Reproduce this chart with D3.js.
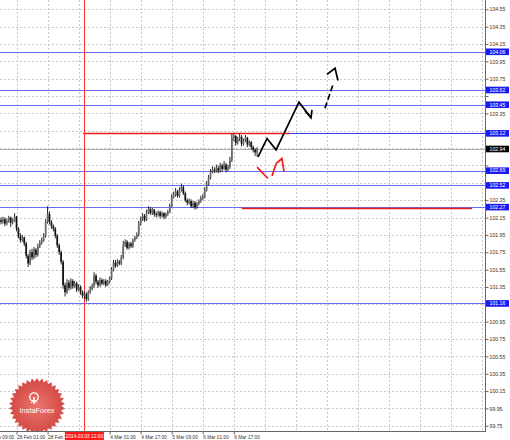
<!DOCTYPE html>
<html>
<head>
<meta charset="utf-8">
<script src="https://cdn.jsdelivr.net/npm/d3@7"></script>
<style>
  body { margin: 0; background: #fff; }
  svg { display: block; font-family: "Liberation Sans", Arial, sans-serif; }
</style>
</head>
<body>
<div id="chart"></div>
<script>
'use strict'

// H1 bars, bar 0 = 27 Feb 17:00 (weekend skipped)
var firstOpen = 102.12;
var closes = [
  102.10, 102.13, 102.08, 102.11, 102.15, 102.09, 102.12, 102.16, 102.02, 101.94,
  101.89, 101.92, 101.85, 101.71, 101.62, 101.75, 101.69, 101.78, 101.72, 101.82,
  101.86, 101.89, 101.94, 102.10, 102.19, 102.10, 102.05, 102.02, 101.94, 101.83,
  101.75, 101.64, 101.37, 101.29, 101.40, 101.34, 101.42, 101.36, 101.39, 101.32,
  101.35, 101.29, 101.25, 101.27, 101.21, 101.29, 101.33, 101.36, 101.48, 101.41,
  101.37, 101.43, 101.39, 101.42, 101.37, 101.41, 101.45, 101.55, 101.63, 101.59,
  101.64, 101.62, 101.69, 101.83, 101.87, 101.80, 101.85, 101.82, 101.89, 101.92,
  101.95, 102.08, 102.13, 102.17, 102.12, 102.21, 102.25, 102.20, 102.24, 102.19,
  102.18, 102.21, 102.17, 102.20, 102.16, 102.19, 102.21, 102.28, 102.39, 102.41,
  102.45, 102.40, 102.47, 102.50, 102.43, 102.35, 102.32, 102.34, 102.28, 102.32,
  102.27, 102.31, 102.34, 102.37, 102.39, 102.47, 102.54, 102.61, 102.68, 102.70,
  102.69, 102.72, 102.69, 102.75, 102.71, 102.76, 102.70, 102.73, 102.81, 103.07,
  103.09, 103.01, 103.06, 103.08, 103.00, 103.04, 103.07, 102.99, 103.02, 102.96,
  102.93, 102.90, 102.94
];
var highs = [
  102.15, 102.16, 102.15, 102.14, 102.17, 102.16, 102.14, 102.20, 102.17, 102.04,
  101.97, 101.95, 101.93, 101.87, 101.73, 101.78, 101.79, 101.81, 101.80, 101.85,
  101.89, 101.92, 101.97, 102.13, 102.28, 102.22, 102.12, 102.07, 102.04, 101.96,
  101.85, 101.77, 101.66, 101.40, 101.44, 101.43, 101.45, 101.44, 101.42, 101.41,
  101.38, 101.37, 101.31, 101.30, 101.29, 101.31, 101.36, 101.39, 101.52, 101.50,
  101.43, 101.46, 101.45, 101.44, 101.44, 101.43, 101.47, 101.58, 101.66, 101.66,
  101.67, 101.66, 101.72, 101.88, 101.90, 101.89, 101.87, 101.87, 101.91, 101.94,
  101.98, 102.11, 102.16, 102.20, 102.19, 102.24, 102.28, 102.27, 102.26, 102.25,
  102.22, 102.23, 102.23, 102.22, 102.21, 102.21, 102.24, 102.31, 102.42, 102.45,
  102.49, 102.47, 102.50, 102.54, 102.52, 102.45, 102.37, 102.37, 102.36, 102.34,
  102.34, 102.33, 102.36, 102.40, 102.42, 102.50, 102.57, 102.64, 102.71, 102.74,
  102.73, 102.76, 102.75, 102.78, 102.77, 102.80, 102.78, 102.76, 102.85, 103.12,
  103.12, 103.10, 103.08, 103.12, 103.10, 103.06, 103.10, 103.08, 103.04, 103.03,
  102.98, 102.95, 102.96
];
var lows = [
  102.07, 102.08, 102.05, 102.06, 102.09, 102.04, 102.07, 102.10, 101.99, 101.91,
  101.86, 101.87, 101.82, 101.68, 101.58, 101.60, 101.66, 101.67, 101.69, 101.70,
  101.80, 101.84, 101.87, 101.92, 102.08, 102.07, 102.02, 101.99, 101.91, 101.80,
  101.72, 101.61, 101.33, 101.24, 101.27, 101.31, 101.32, 101.33, 101.34, 101.29,
  101.30, 101.26, 101.22, 101.21, 101.18, 101.19, 101.27, 101.31, 101.34, 101.38,
  101.34, 101.35, 101.37, 101.37, 101.35, 101.36, 101.39, 101.43, 101.53, 101.57,
  101.58, 101.60, 101.60, 101.67, 101.81, 101.78, 101.78, 101.80, 101.80, 101.87,
  101.90, 101.93, 102.06, 102.11, 102.10, 102.11, 102.19, 102.18, 102.18, 102.16,
  102.15, 102.16, 102.14, 102.15, 102.13, 102.14, 102.17, 102.20, 102.27, 102.37,
  102.39, 102.38, 102.38, 102.45, 102.41, 102.33, 102.29, 102.30, 102.26, 102.26,
  102.24, 102.25, 102.29, 102.32, 102.35, 102.37, 102.45, 102.52, 102.59, 102.66,
  102.66, 102.67, 102.66, 102.67, 102.68, 102.70, 102.67, 102.68, 102.71, 102.79,
  103.03, 102.98, 102.99, 103.03, 102.97, 102.98, 103.02, 102.96, 102.97, 102.93,
  102.90, 102.86, 102.85
];

// time axis
var timeTickBars = [-8, 8, 24, 40, 56, 72, 88, 104, 120];
var timeLabels = ['27 Feb 09:00', '28 Feb 01:00', '28 Feb 17:00', '3 Mar 09:00', '4 Mar 01:00',
  '4 Mar 17:00', '5 Mar 09:00', '6 Mar 01:00', '6 Mar 17:00'];
var cursorBar = 43;
var cursorLabel = '2014.03.03 12:00';

// price axis
var priceTicks = [99.75, 99.95, 100.15, 100.35, 100.55, 100.75, 100.95, 101.15, 101.35, 101.55,
  101.75, 101.95, 102.15, 102.35, 102.55, 102.75, 102.95, 103.15, 103.35, 103.55,
  103.75, 103.95, 104.15, 104.35, 104.55];

// horizontal levels (blue) and where they start (bar index)
var levelPrices = [104.06, 103.62, 103.45, 103.12, 102.69, 102.52, 102.27, 101.16];
var levelStart = [-10, -10, -10, 147, -10, -10, -10, -10];
var bidPrice = 102.94;

// red support / resistance segments
var redPrices = [103.12, 102.26];
var redFrom = [42.3, 124.2];
var redTo = [149, 242.8];

// forecast arrows [bar, price]
var blackPath = [[132.5, 102.85], [137.1, 103.06], [141.8, 102.93], [153.6, 103.48], [159.8, 103.30]];
var blackHead = [[156.7, 103.38], [159.8, 103.30], [160.3, 103.39]];
var dashPath = [[167.0, 103.41], [171.1, 103.68]];
var dashHead = [[168.0, 103.80], [172.2, 103.87], [173.7, 103.73]];
var redPath1 = [[132.0, 102.73], [137.6, 102.60]];
var redPath2 = [[139.7, 102.63], [141.8, 102.77]];
var redHead = [[141.8, 102.77], [144.8, 102.83], [145.9, 102.68]];

// DISPLAY SETTINGS
var WIDTH = 510, HEIGHT = 440;
var PLOT_W = 485, PLOT_H = 431;
var BAR_STEP = 1.94;
var BLUE = '#6a6af2';
var TAG_H = 6.6;

var x = d3.scaleLinear().domain([0, 250]).range([1, 1 + BAR_STEP * 250]);
var y = d3.scaleLinear().domain([99.69, 104.657]).range([PLOT_H, 0]);

var svg = d3.select('#chart').append('svg').attr('width', WIDTH).attr('height', HEIGHT);

var defs = svg.append('defs');
defs.append('clipPath').attr('id', 'plot')
  .append('rect').attr('x', 0).attr('y', 0).attr('width', PLOT_W).attr('height', PLOT_H);

var radial = defs.append('radialGradient').attr('id', 'logoGrad');
radial.append('stop').attr('offset', '0%').attr('stop-color', '#ea6a62');
radial.append('stop').attr('offset', '100%').attr('stop-color', '#d03a36');

var plot = svg.append('g').attr('clip-path', 'url(#plot)');

// GRID
var gridBars = d3.range(-8, 250, 16);
plot.selectAll('line.vgrid').data(gridBars).enter().append('line')
  .attr('class', 'vgrid')
  .attr('x1', function (d) { return Math.round(x(d)) + 0.5 })
  .attr('x2', function (d) { return Math.round(x(d)) + 0.5 })
  .attr('y1', 0).attr('y2', PLOT_H)
  .attr('stroke', '#c8c8c8').attr('stroke-dasharray', '2,2');

plot.selectAll('line.hgrid').data(priceTicks).enter().append('line')
  .attr('class', 'hgrid')
  .attr('x1', 0).attr('x2', PLOT_W)
  .attr('y1', function (d) { return Math.round(y(d)) + 0.5 })
  .attr('y2', function (d) { return Math.round(y(d)) + 0.5 })
  .attr('stroke', '#c8c8c8').attr('stroke-dasharray', '2,2');

// LOGO
var logo = plot.append('g').attr('transform', 'translate(37,406)').attr('opacity', 0.92);
var teeth = 34;
var starPts = d3.range(teeth * 2).map(function (k) {
  var r = k % 2 ? 24.5 : 28;
  var a = k * Math.PI / teeth;
  return [Math.sin(a) * r, -Math.cos(a) * r];
});
logo.append('path').attr('d', 'M' + starPts.join('L') + 'Z').attr('fill', 'url(#logoGrad)');
logo.append('circle').attr('cx', -3).attr('cy', -9).attr('r', 4.2)
  .attr('fill', 'none').attr('stroke', '#fff').attr('stroke-width', 1.3);
logo.append('line').attr('x1', -3).attr('x2', -3).attr('y1', -9).attr('y2', -2)
  .attr('stroke', '#fff').attr('stroke-width', 1.6);
logo.append('path').attr('d', 'M-6,-3 L-3,-6 L0,-3').attr('fill', 'none')
  .attr('stroke', '#fff').attr('stroke-width', 1);
logo.append('text').text('InstaForex').attr('x', 0).attr('y', 6.5)
  .attr('text-anchor', 'middle').attr('font-size', '7.4px').attr('fill', '#fff');

// LEVELS
plot.append('line')
  .attr('x1', 0).attr('x2', PLOT_W)
  .attr('y1', Math.round(y(bidPrice)) + 0.5).attr('y2', Math.round(y(bidPrice)) + 0.5)
  .attr('stroke', '#b0b0b0');

plot.selectAll('line.level').data(levelPrices).enter().append('line')
  .attr('class', 'level')
  .attr('x1', function (d, i) { return Math.max(0, x(levelStart[i])) })
  .attr('x2', PLOT_W)
  .attr('y1', function (d) { return Math.round(y(d)) + 0.5 })
  .attr('y2', function (d) { return Math.round(y(d)) + 0.5 })
  .attr('stroke', function (d) { return d === 103.12 ? '#3a3af5' : BLUE })
  .attr('stroke-width', function (d) { return d === 104.06 ? 1 : 1.2 });

plot.selectAll('line.red').data(redPrices).enter().append('line')
  .attr('class', 'red')
  .attr('x1', function (d, i) { return x(redFrom[i]) })
  .attr('x2', function (d, i) { return x(redTo[i]) })
  .attr('y1', function (d) { return Math.round(y(d)) + 0.5 })
  .attr('y2', function (d) { return Math.round(y(d)) + 0.5 })
  .attr('stroke', '#ee1c1c').attr('stroke-width', 1.6);

// cursor line
plot.append('line')
  .attr('x1', Math.round(x(cursorBar)) + 0.5).attr('x2', Math.round(x(cursorBar)) + 0.5)
  .attr('y1', 0).attr('y2', PLOT_H)
  .attr('stroke', '#ff3030').attr('stroke-width', 1);

// CANDLES
var bars = closes.map(function (c, i) {
  return { i: i, o: i ? closes[i - 1] : firstOpen, c: c, h: highs[i], l: lows[i] };
});

plot.selectAll('line.wick').data(bars).enter().append('line')
  .attr('class', 'wick')
  .attr('x1', function (d) { return x(d.i) }).attr('x2', function (d) { return x(d.i) })
  .attr('y1', function (d) { return y(d.h) }).attr('y2', function (d) { return y(d.l) })
  .attr('stroke', '#111').attr('stroke-width', 0.9);

plot.selectAll('rect.body').data(bars).enter().append('rect')
  .attr('class', 'body')
  .attr('x', function (d) { return x(d.i) - 0.85 })
  .attr('width', 1.7)
  .attr('y', function (d) { return y(Math.max(d.o, d.c)) })
  .attr('height', function (d) { return Math.max(0.8, Math.abs(y(d.o) - y(d.c))) })
  .attr('fill', function (d) { return d.c >= d.o ? '#6a6a6a' : '#111' });

// FORECAST ARROWS
var line = d3.line().x(function (d) { return x(d[0]) }).y(function (d) { return y(d[1]) });

[blackPath, blackHead].forEach(function (p) {
  plot.append('path').attr('d', line(p)).attr('fill', 'none')
    .attr('stroke', '#000').attr('stroke-width', 1.7).attr('stroke-linejoin', 'miter');
});
plot.append('path').attr('d', line(dashPath)).attr('fill', 'none')
  .attr('stroke', '#000').attr('stroke-width', 1.7).attr('stroke-dasharray', '6,3');
plot.append('path').attr('d', line(dashHead)).attr('fill', 'none')
  .attr('stroke', '#000').attr('stroke-width', 1.7);

[redPath1, redPath2, redHead].forEach(function (p) {
  plot.append('path').attr('d', line(p)).attr('fill', 'none')
    .attr('stroke', '#ee1c1c').attr('stroke-width', 1.7);
});

// AXES
svg.append('line').attr('x1', PLOT_W + 0.5).attr('x2', PLOT_W + 0.5).attr('y1', 0).attr('y2', PLOT_H + 1)
  .attr('stroke', '#666');
svg.append('line').attr('x1', 0).attr('x2', PLOT_W + 1).attr('y1', PLOT_H + 0.5).attr('y2', PLOT_H + 0.5)
  .attr('stroke', '#666');

// tick labels under a price tag are not shown (MT4 style)
var tagPrices = levelPrices.concat([bidPrice]);
function underTag(p) {
  return tagPrices.some(function (t) { return Math.abs(y(t) - y(p)) < TAG_H });
}

var yAxis = d3.axisRight(y).tickValues(priceTicks).tickSize(3).tickPadding(1)
  .tickFormat(function (d) { return underTag(d) ? '' : d3.format('.2f')(d) });
var gy = svg.append('g').attr('transform', 'translate(' + (PLOT_W + 0.5) + ',0)').call(yAxis);
gy.select('.domain').remove();
gy.selectAll('.tick line').attr('stroke', '#666');
gy.selectAll('.tick text').attr('font-size', '5.2px').attr('fill', '#333')
  .attr('font-family', '"Liberation Sans", Arial, sans-serif');

// the time label sitting right under the cursor tag is hidden by it
var xAxis = d3.axisBottom(x).tickValues(timeTickBars).tickSize(3).tickPadding(1)
  .tickFormat(function (d, i) { return Math.abs(x(d) - x(cursorBar)) < 10 ? '' : timeLabels[i] });
var gx = svg.append('g').attr('transform', 'translate(0,' + (PLOT_H + 0.5) + ')').call(xAxis);
gx.select('.domain').remove();
gx.selectAll('.tick line').attr('stroke', '#666');
gx.selectAll('.tick text').attr('font-size', '4.8px').attr('fill', '#333')
  .attr('text-anchor', 'start').attr('font-family', '"Liberation Sans", Arial, sans-serif');

// highlighted price labels
function priceTag(p, bg) {
  var g = svg.append('g').attr('transform', 'translate(' + (PLOT_W + 1) + ',' + y(p) + ')');
  g.append('rect').attr('x', 0).attr('y', -TAG_H / 2).attr('width', 23).attr('height', TAG_H).attr('fill', bg);
  g.append('text').text(d3.format('.2f')(p)).attr('x', 3.5).attr('y', 1.8)
    .attr('font-size', '5.2px').attr('fill', '#fff');
}
levelPrices.forEach(function (p) { priceTag(p, '#1a1aee'); });
priceTag(bidPrice, '#000');

// cursor time label
var cg = svg.append('g').attr('transform', 'translate(' + x(cursorBar) + ',' + (PLOT_H + 1) + ')');
cg.append('rect').attr('x', -19.5).attr('y', 0).attr('width', 39).attr('height', 8).attr('fill', '#ff1a1a');
cg.append('text').text(cursorLabel).attr('x', 0).attr('y', 5.8)
  .attr('text-anchor', 'middle').attr('font-size', '4.8px').attr('fill', '#fff');
</script>
</body>
</html>
